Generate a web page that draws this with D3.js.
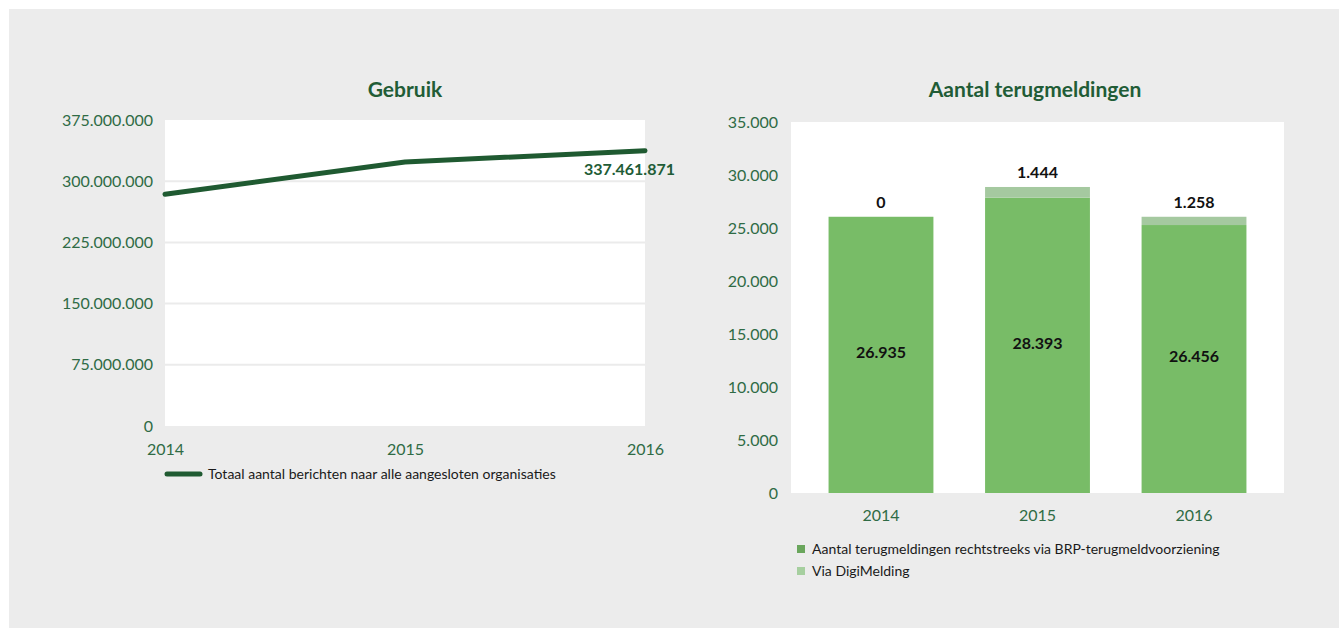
<!DOCTYPE html>
<html>
<head>
<meta charset="utf-8">
<script src="https://cdn.jsdelivr.net/npm/d3@7"></script>
<style>
  html, body { margin: 0; padding: 0; background: #ffffff; }
  svg { display: block; }
  text { font-family: "Lato", "Noto Sans", sans-serif; }
</style>
</head>
<body>
<svg id="chart" width="1339" height="628"></svg>
<script>
// ---------- Data ----------
const lineYears = ["2014", "2015", "2016"];
const lineValues = [284000000, 323500000, 337461871];
const lineLabel = "337.461.871";
const lineTicks = [0, 75000000, 150000000, 225000000, 300000000, 375000000];
const lineSeriesName = "Totaal aantal berichten naar alle aangesloten organisaties";

const barYears = ["2014", "2015", "2016"];
const directValues = [26060, 27860, 25280];     // bar heights as drawn
const digiValues = [0, 1010, 780];               // bar heights as drawn
const directLabels = ["26.935", "28.393", "26.456"];
const digiLabels = ["0", "1.444", "1.258"];
const barTicks = [0, 5000, 10000, 15000, 20000, 25000, 30000, 35000];
const barSeriesNames = ["Aantal terugmeldingen rechtstreeks via BRP-terugmeldvoorziening", "Via DigiMelding"];

// ---------- Styles ----------
const C = {
  panel: "#ececec",
  plot: "#ffffff",
  grid: "#ebebeb",
  title: "#215c36",
  tick: "#2f6b45",
  line: "#1f5a31",
  dark: "#78bc67",
  light: "#a5c9a0",
  legDark: "#6aa65c",
  legLight: "#a6cf9f",
  label: "#111111"
};

const loc = d3.formatLocale({ decimal: ",", thousands: ".", grouping: [3], currency: ["€", ""] });
const fmt = loc.format(",.0f");

const svg = d3.select("#chart");
svg.append("rect").attr("x", 9).attr("y", 9).attr("width", 1330).attr("height", 619).attr("fill", C.panel);

// ---------- Left chart: Gebruik ----------
const L = { left: 165, right: 645, top: 120, bottom: 426 };
const xL = d3.scalePoint().domain(lineYears).range([L.left, L.right]);
const yL = d3.scaleLinear().domain([0, 375000000]).range([L.bottom, L.top]);

const gL = svg.append("g");
gL.append("rect").attr("x", L.left).attr("y", L.top).attr("width", L.right - L.left).attr("height", L.bottom - L.top).attr("fill", C.plot);

gL.selectAll("line.grid").data(lineTicks.filter(d => d > 0 && d < 375000000)).enter()
  .append("line").attr("class", "grid")
  .attr("x1", L.left).attr("x2", L.right)
  .attr("y1", d => yL(d)).attr("y2", d => yL(d))
  .attr("stroke", C.grid).attr("stroke-width", 2);

const axL = gL.append("g").attr("transform", `translate(${L.left - 12},0)`)
  .call(d3.axisLeft(yL).tickValues(lineTicks).tickFormat(fmt).tickSize(0).tickPadding(0));
axL.select(".domain").remove();
axL.selectAll("text").attr("fill", C.tick).attr("font-size", 16).attr("dy", "0.32em");

const axLx = gL.append("g").attr("transform", `translate(0,${L.bottom})`)
  .call(d3.axisBottom(xL).tickSize(0).tickPadding(0));
axLx.select(".domain").remove();
axLx.selectAll("text").attr("fill", C.tick).attr("font-size", 16).attr("dy", "1.8em");

gL.append("path").datum(lineValues.map((v, i) => [lineYears[i], v]))
  .attr("d", d3.line().x(d => xL(d[0])).y(d => yL(d[1])))
  .attr("fill", "none").attr("stroke", C.line).attr("stroke-width", 5)
  .attr("stroke-linecap", "round").attr("stroke-linejoin", "round");

gL.append("text")
  .attr("x", xL(lineYears[2]) + 30).attr("y", yL(lineValues[2]) + 24)
  .attr("text-anchor", "end").attr("font-weight", "bold").attr("font-size", 16)
  .attr("fill", C.title).text(lineLabel);

gL.append("text").attr("x", (L.left + L.right) / 2).attr("y", 97)
  .attr("text-anchor", "middle").attr("font-weight", "bold").attr("font-size", 21)
  .attr("fill", C.title).text("Gebruik");

gL.append("line").attr("x1", L.left + 2).attr("x2", L.left + 35).attr("y1", 474).attr("y2", 474)
  .attr("stroke", C.line).attr("stroke-width", 5).attr("stroke-linecap", "round");
gL.append("text").attr("x", 208).attr("y", 479).attr("font-size", 14).attr("fill", "#1a1a1a").text(lineSeriesName);

// ---------- Right chart: Aantal terugmeldingen ----------
const R = { left: 791, right: 1284, top: 122, bottom: 493 };
const xR = d3.scaleBand().domain(barYears).range([R.left, R.right]).paddingInner(0.33).paddingOuter(0.24);
const yR = d3.scaleLinear().domain([0, 35000]).range([R.bottom, R.top]);

const gR = svg.append("g");
gR.append("rect").attr("x", R.left).attr("y", R.top).attr("width", R.right - R.left).attr("height", R.bottom - R.top).attr("fill", C.plot);

const axR = gR.append("g").attr("transform", `translate(${R.left - 13},0)`)
  .call(d3.axisLeft(yR).tickValues(barTicks).tickFormat(fmt).tickSize(0).tickPadding(0));
axR.select(".domain").remove();
axR.selectAll("text").attr("fill", C.tick).attr("font-size", 16).attr("dy", "0.32em");

const axRx = gR.append("g").attr("transform", `translate(0,${R.bottom})`)
  .call(d3.axisBottom(xR).tickSize(0).tickPadding(0));
axRx.select(".domain").remove();
axRx.selectAll("text").attr("fill", C.tick).attr("font-size", 16).attr("dy", "1.75em");

gR.selectAll("rect.dark").data(barYears).enter().append("rect").attr("class", "dark")
  .attr("x", d => xR(d)).attr("width", xR.bandwidth())
  .attr("y", (d, i) => yR(directValues[i]))
  .attr("height", (d, i) => yR(0) - yR(directValues[i]))
  .attr("fill", C.dark);

gR.selectAll("rect.light").data(barYears).enter().append("rect").attr("class", "light")
  .attr("x", d => xR(d)).attr("width", xR.bandwidth())
  .attr("y", (d, i) => yR(directValues[i] + digiValues[i]))
  .attr("height", (d, i) => yR(directValues[i]) - yR(directValues[i] + digiValues[i]))
  .attr("fill", C.light);

gR.selectAll("text.dl").data(barYears).enter().append("text").attr("class", "dl")
  .attr("x", d => xR(d) + xR.bandwidth() / 2)
  .attr("y", (d, i) => yR(directValues[i] / 2))
  .attr("dy", "0.2em").attr("text-anchor", "middle")
  .attr("font-weight", "bold").attr("font-size", 16).attr("fill", C.label)
  .text((d, i) => directLabels[i]);

gR.selectAll("text.tl").data(barYears).enter().append("text").attr("class", "tl")
  .attr("x", d => xR(d) + xR.bandwidth() / 2)
  .attr("y", (d, i) => yR(directValues[i] + digiValues[i]) - 9)
  .attr("text-anchor", "middle")
  .attr("font-weight", "bold").attr("font-size", 16).attr("fill", C.label)
  .text((d, i) => digiLabels[i]);

gR.append("text").attr("x", 1035).attr("y", 97)
  .attr("text-anchor", "middle").attr("font-weight", "bold").attr("font-size", 21)
  .attr("fill", C.title).text("Aantal terugmeldingen");

const legR = gR.selectAll("g.leg").data(barSeriesNames).enter().append("g").attr("class", "leg")
  .attr("transform", (d, i) => `translate(797,${549 + i * 22})`);
legR.append("rect").attr("x", 0).attr("y", -4).attr("width", 8).attr("height", 8)
  .attr("fill", (d, i) => i === 0 ? C.legDark : C.legLight);
legR.append("text").attr("x", 15).attr("y", 5).attr("font-size", 14).attr("fill", "#1a1a1a").text(d => d);
</script>
</body>
</html>
